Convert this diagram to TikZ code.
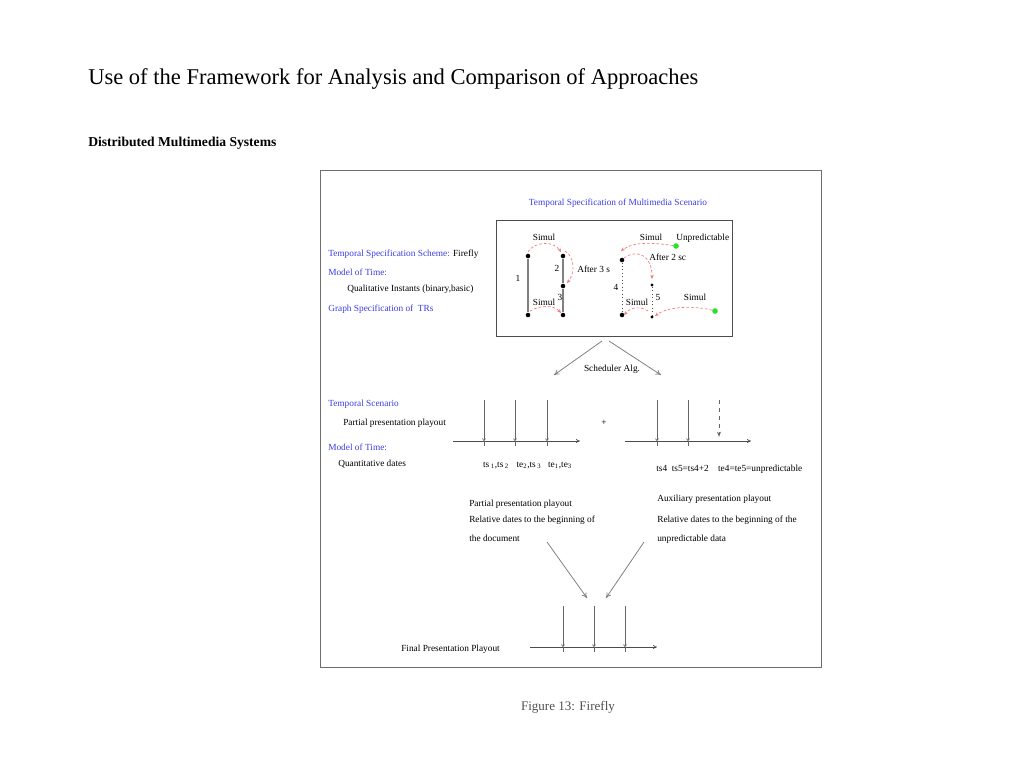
\documentclass[tikz,border=0pt]{standalone}
\usepackage{fontspec}
\setmainfont{Liberation Serif}
\usetikzlibrary{arrows.meta}
\definecolor{figblue}{RGB}{60,60,225}
\definecolor{figred}{RGB}{240,120,120}
\definecolor{figgreen}{RGB}{40,225,40}
\definecolor{framegray}{RGB}{110,110,110}
\definecolor{capgray}{RGB}{80,80,80}
\begin{document}
\begin{tikzpicture}[x=0.75pt,y=-0.75pt,
  sm/.style={font=\fontsize{7}{8}\selectfont, inner sep=0pt},
  lab/.style={sm, anchor=base west},
  labc/.style={sm, anchor=base},
  btxt/.style={text=figblue},
  redarc/.style={draw=figred, dash pattern=on 2pt off 1.5pt, line width=0.5pt, -{Stealth[length=3pt,width=2.6pt]}},
  grayarr/.style={draw=gray, line width=0.6pt, -{To[length=4pt,width=4pt]}},
  axisarr/.style={draw=black!70, line width=0.5pt, -{To[length=3pt,width=3pt]}},
  tick/.style={draw=black!60, line width=0.5pt, -{To[length=2pt,width=2.5pt]}},
  gline/.style={draw=gray, line width=0.9pt},
  dline/.style={draw=black!70, line width=0.6pt, dotted},
  dot/.style={circle, fill=black, draw=none, inner sep=0pt, minimum size=3.4pt},
  sdot/.style={circle, fill=black, draw=none, inner sep=0pt, minimum size=2.6pt},
  gdot/.style={circle, fill=figgreen, draw=none, inner sep=0pt, minimum size=4.2pt}
]
\useasboundingbox (0,0) rectangle (1024,768);

% headings
\node[anchor=base west, inner sep=0pt, font=\fontsize{16.9}{18}\selectfont] (title) at (88,84) {Use of the Framework for Analysis and Comparison of Approaches};
\node[anchor=base west, inner sep=0pt, font=\fontsize{10.2}{12}\selectfont\bfseries] (sub) at (88,146) {Distributed Multimedia Systems};

% frame
\node[draw=framegray, line width=0.8pt, minimum width=501*0.75pt, minimum height=497*0.75pt, inner sep=0pt, anchor=north west] (frame) at (320,170) {};
\node[draw=black!70, line width=0.8pt, minimum width=236*0.75pt, minimum height=116*0.75pt, inner sep=0pt, anchor=north west] (inner) at (496,220) {};

\node[labc, btxt] (ttl) at (618,205) {Temporal Specification of Multimedia Scenario};

% left labels (top)
\node[lab] (tss) at (328,256) {\textcolor{figblue}{Temporal Specification Scheme:} Firefly};
\node[lab, btxt] (mot1) at (328,275) {Model of Time:};
\node[lab] (qi) at (347,291) {Qualitative Instants (binary,basic)};
\node[lab, btxt] (gs) at (328,311) {Graph Specification of\ \ TRs};

% graph: left pair
\node[dot] (p1t) at (528,256) {};
\node[dot] (p1b) at (528,315) {};
\node[dot] (p2t) at (563,256) {};
\node[dot] (p2m) at (563,286) {};
\node[dot] (p2b) at (563,315) {};
\draw[gline] (p1t) -- (p1b);
\draw[gline] (p2t) -- (p2m) -- (p2b);
\node[labc] (n1) at (518,281) {1};
\node[labc] (n2) at (557,271) {2};
\node[labc] (n3) at (560,300) {3};
\node[labc] (s1) at (544,240) {Simul};
\node[labc] (s2) at (544,305) {Simul};
\node[lab] (a3) at (577,272) {After 3 s};

\coordinate (r1a) at (528,252);
\coordinate (r1b) at (561,252);
\draw[redarc] (r1a) .. controls (533,242) and (553,240) .. (r1b);
\coordinate (r2a) at (565,251);
\coordinate (r2b) at (567,283);
\draw[redarc] (r2a) .. controls (575,257) and (575,273) .. (r2b);
\coordinate (r3a) at (530,311);
\coordinate (r3b) at (561,313);
\draw[redarc] (r3a) .. controls (540,305) and (554,305) .. (r3b);

% graph: right pair
\node[dot] (p4t) at (622,260) {};
\node[dot] (p4b) at (622,315) {};
\node[sdot] (p5t) at (652,285) {};
\node[sdot] (p5b) at (652,317) {};
\draw[dline] (p4t) -- (p4b);
\draw[dline] (p5t) -- (p5b);
\node[labc] (n4) at (616,290) {4};
\node[labc] (n5) at (658,300) {5};
\node[labc] (s3) at (651,240) {Simul};
\node[lab] (unp) at (676,240) {Unpredictable};
\node[gdot] (g1) at (676,246) {};
\node[lab] (a2) at (649,260) {After 2 sc};
\node[labc] (s4) at (637,305) {Simul};
\node[labc] (s5) at (695,300) {Simul};
\node[gdot] (g2) at (715,311) {};

\coordinate (r4b) at (621,251);
\draw[redarc] (g1) .. controls (656,243) and (634,241) .. (r4b);
\coordinate (r5a) at (624,258);
\coordinate (r5b) at (652,279);
\draw[redarc] (r5a) .. controls (636,249) and (652,254) .. (r5b);
\coordinate (r6a) at (648,311);
\coordinate (r6b) at (624,315);
\draw[redarc] (r6a) .. controls (640,306) and (631,307) .. (r6b);
\coordinate (r7b) at (655,316);
\draw[redarc] (g2) .. controls (692,305) and (667,307) .. (r7b);

% scheduler arrows
\coordinate (schLa) at (602,341);
\coordinate (schRa) at (609,341);
\coordinate (schL) at (554,375);
\coordinate (schR) at (661,375);
\draw[grayarr] (schLa) -- (schL);
\draw[grayarr] (schRa) -- (schR);
\node[labc] (sa) at (612,371) {Scheduler Alg.};

% middle-left labels
\node[lab, btxt] (tsc) at (328,406) {Temporal Scenario};
\node[lab] (ppp) at (343,425) {Partial presentation playout};
\node[lab, btxt] (mot2) at (328,450) {Model of Time:};
\node[lab] (qd) at (338,466) {Quantitative dates};

% timeline 1
\coordinate (ax1s) at (453,441);
\coordinate (ax1e) at (580,441);
\draw[axisarr] (ax1s) -- (ax1e);
\foreach \i/\x in {a/484,b/515,c/547}{
  \coordinate (t1\i) at (\x,400);
  \coordinate (b1\i) at (\x,441);
  \draw[tick] (t1\i) -- (b1\i);
  \draw[draw=black!60, line width=0.5pt] (b1\i) -- ++(0,5);
}
\node[labc] (plus) at (604,425) {+};
\node[labc] (l1) at (496,467) {ts\,\textsubscript{1},ts\,\textsubscript{2}};
\node[labc] (l2) at (529,467) {te\textsubscript{2},ts\,\textsubscript{3}};
\node[labc] (l3) at (560,467) {te\textsubscript{1},te\textsubscript{3}};

% timeline 2
\coordinate (ax2s) at (625,441);
\coordinate (ax2e) at (751,441);
\draw[axisarr] (ax2s) -- (ax2e);
\foreach \i/\x in {a/657,b/688}{
  \coordinate (t2\i) at (\x,400);
  \coordinate (b2\i) at (\x,441);
  \draw[tick] (t2\i) -- (b2\i);
  \draw[draw=black!60, line width=0.5pt] (b2\i) -- ++(0,5);
}
\coordinate (t2c) at (719,400);
\coordinate (b2c) at (719,437);
\draw[draw=black!60, line width=0.5pt, dashed, -{Stealth[open,length=4pt,width=3pt]}] (t2c) -- (b2c);
\node[lab] (l4) at (656,471) {ts4\ \ ts5=ts4+2\ \ \ \ te4=te5=unpredictable};

% middle texts
\node[lab] (pp1) at (469,506) {Partial presentation playout};
\node[lab] (pp2) at (469,522) {Relative dates to the beginning of};
\node[lab] (pp3) at (469,541) {the document};
\node[lab] (ap1) at (657,501) {Auxiliary presentation playout};
\node[lab] (ap2) at (657,522) {Relative dates to the beginning of the};
\node[lab] (ap3) at (657,541) {unpredictable data};

\coordinate (cl) at (547,542);
\coordinate (clb) at (587,598);
\coordinate (cr) at (644,542);
\coordinate (crb) at (606,598);
\draw[grayarr] (cl) -- (clb);
\draw[grayarr] (cr) -- (crb);

% final timeline
\node[lab] (fpp) at (401,651) {Final Presentation Playout};
\coordinate (ax3s) at (530,647);
\coordinate (ax3e) at (657,647);
\draw[axisarr] (ax3s) -- (ax3e);
\foreach \i/\x in {a/563,b/594,c/625}{
  \coordinate (t3\i) at (\x,606);
  \coordinate (b3\i) at (\x,647);
  \draw[tick] (t3\i) -- (b3\i);
  \draw[draw=black!60, line width=0.5pt] (b3\i) -- ++(0,5);
}

% caption
\node[anchor=base, inner sep=0pt, text=capgray, font=\fontsize{9.8}{11}\selectfont] (cap) at (568,710) {Figure 13: Firefly};
\end{tikzpicture}
\end{document}
